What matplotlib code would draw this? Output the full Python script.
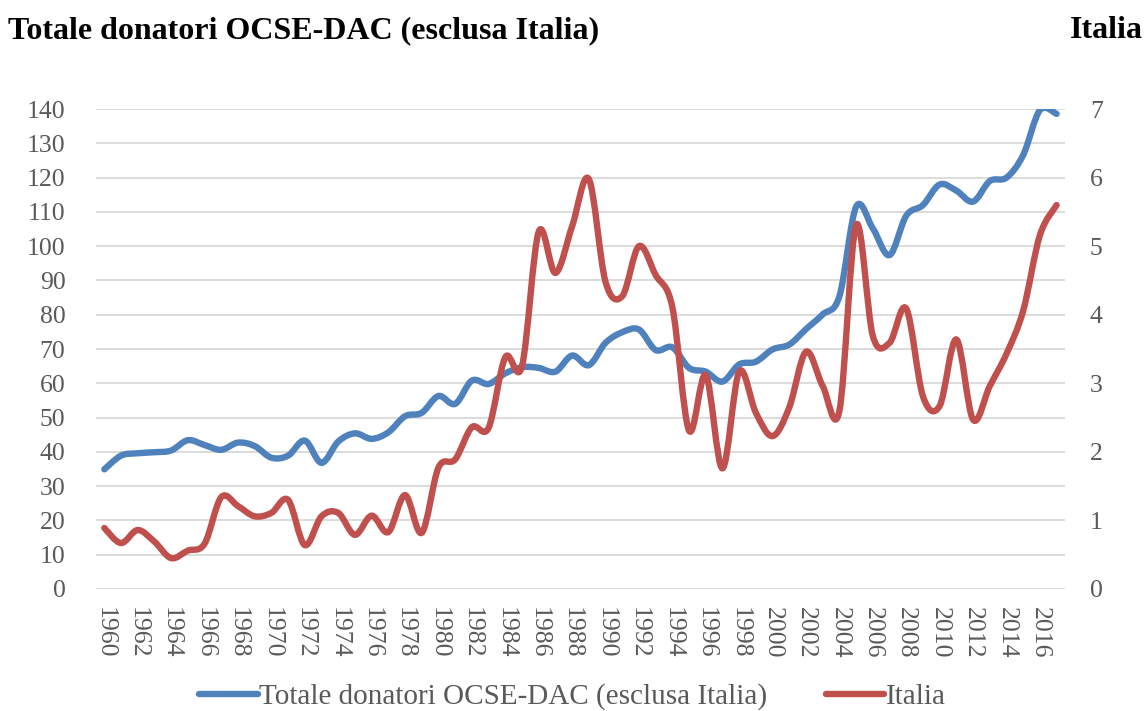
import numpy as np
import matplotlib
matplotlib.use('Agg')
import matplotlib.pyplot as plt
from matplotlib.path import Path
from matplotlib.patches import PathPatch
from matplotlib.lines import Line2D

plt.rcParams['font.family'] = ['Liberation Serif', 'DejaVu Serif']

# Dati
anni = list(range(1960, 2018))
totale_dac = [34.9, 38.9, 39.6, 39.9, 40.4, 43.4, 42.0, 40.6, 42.7, 41.7,
              38.3, 38.9, 43.3, 36.8, 43.0, 45.4, 43.8, 45.7, 50.4, 51.4,
              56.3, 54.0, 60.8, 59.8, 62.9, 64.7, 64.5, 63.4, 68.1, 65.3,
              71.8, 74.9, 75.7, 69.7, 70.5, 64.5, 63.4, 60.5, 65.5, 66.3,
              69.9, 71.3, 75.8, 80.1, 85.4, 111.5, 105.2, 97.4, 108.9, 112.0,
              118.0, 116.2, 113.0, 119.0, 120.0, 126.6, 139.7, 138.6]
italia = [0.89, 0.67, 0.86, 0.69, 0.45, 0.56, 0.66, 1.34, 1.21, 1.06,
          1.11, 1.30, 0.64, 1.06, 1.11, 0.79, 1.07, 0.83, 1.37, 0.82,
          1.77, 1.89, 2.36, 2.35, 3.38, 3.25, 5.21, 4.61, 5.29, 5.98,
          4.48, 4.27, 5.00, 4.58, 4.11, 2.31, 3.12, 1.76, 3.17, 2.57,
          2.23, 2.65, 3.46, 2.96, 2.60, 5.31, 3.69, 3.59, 4.09, 2.81,
          2.67, 3.64, 2.47, 2.96, 3.43, 4.06, 5.16, 5.60]

BLU = '#4F81BD'
ROSSO = '#C0504D'
GRIGIO = '#595959'


def curva_smussata(x, y):
    # linea smussata tipo Excel: Bezier cubiche con punti di controllo Catmull-Rom
    x = np.asarray(x, float)
    y = np.asarray(y, float)
    pts = np.column_stack([x, y])
    n = len(pts)
    verts = [pts[0]]
    codes = [Path.MOVETO]
    for i in range(n - 1):
        p0 = pts[max(i - 1, 0)]
        p1 = pts[i]
        p2 = pts[i + 1]
        p3 = pts[min(i + 2, n - 1)]
        c1 = p1 + (p2 - p0) / 6.0
        c2 = p2 - (p3 - p1) / 6.0
        verts += [c1, c2, p2]
        codes += [Path.CURVE4] * 3
    return Path(verts, codes)


fig = plt.figure(figsize=(11.45, 7.11), dpi=100)
ax = fig.add_axes([0.0838, 0.1716, 0.8463, 0.675])
ax2 = ax.twinx()

ax.set_xlim(1959.5, 2017.5)
ax.set_ylim(0, 140)
ax2.set_ylim(0, 7)
ax.set_yticks(range(0, 141, 10))
ax2.set_yticks(range(0, 8))
ax.set_xticks(anni[::2])
ax.set_xticklabels([str(a) for a in anni[::2]], rotation=-90)

ax.grid(axis='y', color='#D9D9D9', linewidth=1.3)
ax.set_axisbelow(True)
for a in (ax, ax2):
    for s in a.spines.values():
        s.set_visible(False)
ax.tick_params(axis='both', length=0, labelsize=18.5, labelcolor=GRIGIO)
ax.tick_params(axis='y', pad=22)
ax.tick_params(axis='x', pad=13)
ax2.tick_params(axis='y', length=0, labelsize=18.5, labelcolor=GRIGIO, pad=18)

ax.add_patch(PathPatch(curva_smussata(anni, totale_dac), facecolor='none',
                       edgecolor=BLU, linewidth=4.6, capstyle='round', joinstyle='round'))
ax2.add_patch(PathPatch(curva_smussata(anni, italia), facecolor='none',
                        edgecolor=ROSSO, linewidth=4.6, capstyle='round', joinstyle='round'))

fig.text(0.007, 0.957, 'Totale donatori OCSE-DAC (esclusa Italia)', fontsize=23,
         fontweight='bold', va='center', ha='left')
fig.text(0.998, 0.957, 'Italia', fontsize=23, fontweight='bold', va='center', ha='right')

handles = [Line2D([], [], color=BLU, linewidth=4.6, solid_capstyle='round'),
           Line2D([], [], color=ROSSO, linewidth=4.6, solid_capstyle='round')]
leg = fig.legend(handles, ['Totale donatori OCSE-DAC (esclusa Italia)', 'Italia'],
                 loc='center', bbox_to_anchor=(0.5, 0.02), ncol=2, frameon=False,
                 fontsize=21, handlelength=2.0, handletextpad=0.05, columnspacing=2.0,
                 borderpad=0)
for t in leg.get_texts():
    t.set_color(GRIGIO)

fig.savefig('out.png', dpi=100)
